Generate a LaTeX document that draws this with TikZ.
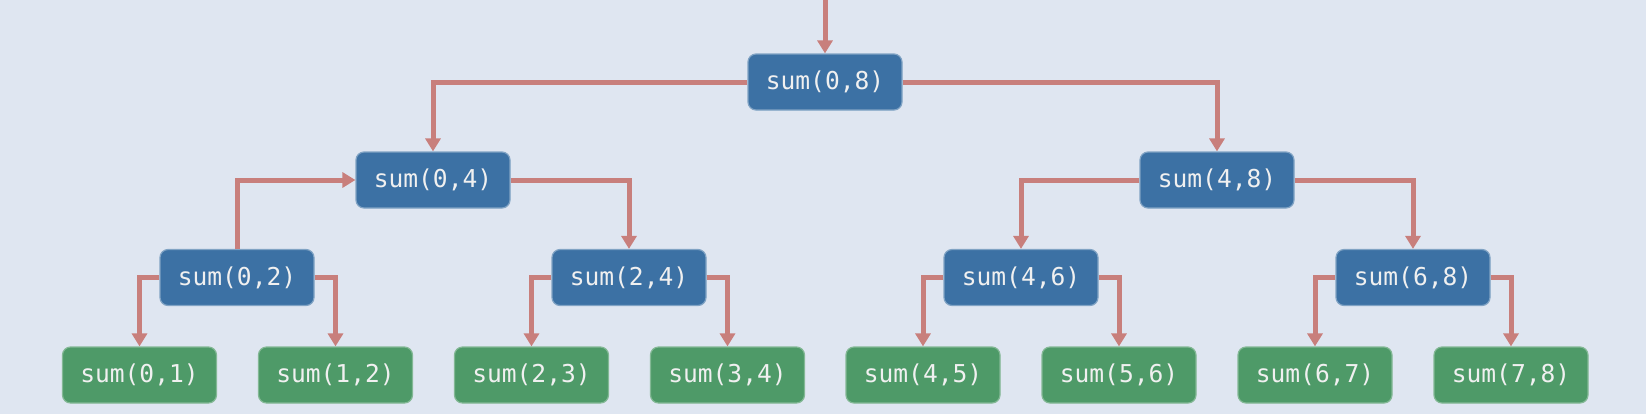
\documentclass[tikz,border=0pt]{standalone}
\usepackage{fontspec}
\setmonofont{DejaVu Sans Mono}
\usepackage{xcolor}
\usetikzlibrary{arrows.meta}

\definecolor{bgcol}{HTML}{DFE6F1}
\definecolor{inner}{HTML}{3C71A4}
\definecolor{leafcol}{HTML}{4E9A68}
\definecolor{linkcol}{HTML}{C87F7C}

\tikzset{
    sumbox/.style={rounded corners=4pt, minimum width=77pt, minimum height=28pt,
        inner sep=0pt, text=white!94!black, draw=white!35!inner, line width=0.6pt,
        fill=inner, font=\ttfamily\fontsize{12.3}{14}\selectfont},
    leafbox/.style={sumbox, fill=leafcol, draw=white!30!leafcol},
    link/.style={draw=linkcol, line width=2.5pt,
        -{Triangle[length=6.5pt,width=7.5pt]}}
}

\begin{document}
\begin{tikzpicture}[x=0.5pt,y=-0.5pt]
    \fill[bgcol] (0,0) rectangle (1646,414);
    \useasboundingbox (0,0) rectangle (1646,414);
    % root and inner sums
    \coordinate (in) at (825,0);
    \node[sumbox] (s08) at (825,82) {sum(0,8)};
    \node[sumbox] (s04) at (433,180) {sum(0,4)};
    \node[sumbox] (s48) at (1217,180) {sum(4,8)};
    \node[sumbox] (s02) at (237,277.5) {sum(0,2)};
    \node[sumbox] (s24) at (629,277.5) {sum(2,4)};
    \node[sumbox] (s46) at (1021,277.5) {sum(4,6)};
    \node[sumbox] (s68) at (1413,277.5) {sum(6,8)};
    % leaves
    \node[leafbox] (s01) at (139.5,375) {sum(0,1)};
    \node[leafbox] (s12) at (335.5,375) {sum(1,2)};
    \node[leafbox] (s23) at (531.5,375) {sum(2,3)};
    \node[leafbox] (s34) at (727.5,375) {sum(3,4)};
    \node[leafbox] (s45) at (923,375) {sum(4,5)};
    \node[leafbox] (s56) at (1119,375) {sum(5,6)};
    \node[leafbox] (s67) at (1315,375) {sum(6,7)};
    \node[leafbox] (s78) at (1511,375) {sum(7,8)};
    % connectors
    \draw[link] (in) -- (s08.north);
    \draw[link] (s08.west) -| (s04.north);
    \draw[link] (s08.east) -| (s48.north);
    \draw[link] (s02.north) |- (s04.west);
    \draw[link] (s04.east) -| (s24.north);
    \draw[link] (s48.west) -| (s46.north);
    \draw[link] (s48.east) -| (s68.north);
    \draw[link] (s02.west) -| (s01.north);
    \draw[link] (s02.east) -| (s12.north);
    \draw[link] (s24.west) -| (s23.north);
    \draw[link] (s24.east) -| (s34.north);
    \draw[link] (s46.west) -| (s45.north);
    \draw[link] (s46.east) -| (s56.north);
    \draw[link] (s68.west) -| (s67.north);
    \draw[link] (s68.east) -| (s78.north);
\end{tikzpicture}
\end{document}
